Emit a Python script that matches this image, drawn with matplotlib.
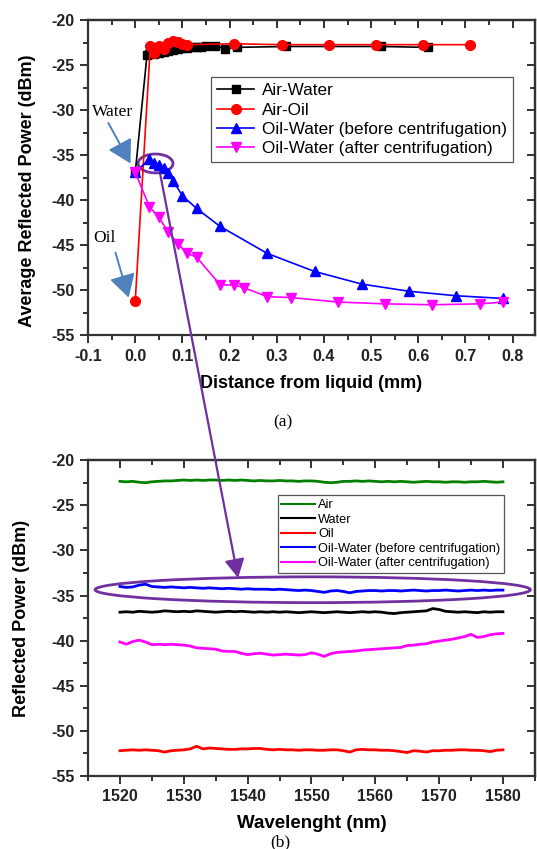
import numpy as np
import matplotlib
matplotlib.use("Agg")
import matplotlib.pyplot as plt
from matplotlib.ticker import MultipleLocator
from matplotlib.patches import Ellipse, FancyArrowPatch, ConnectionPatch

plt.rcParams["font.family"] = ["Liberation Sans", "DejaVu Sans"]
plt.rcParams["axes.unicode_minus"] = False

# (a) reflected power against distance from the liquid surface
aw_x = [0.0, 0.025, 0.03, 0.04, 0.05, 0.06, 0.07, 0.08, 0.09, 0.10, 0.11,
        0.12, 0.13, 0.14, 0.15, 0.17, 0.19, 0.215, 0.32, 0.52, 0.62]
aw_y = [-36.9, -23.8, -23.7, -23.7, -23.6, -23.5, -23.4, -23.3, -23.2, -23.1, -23.1,
        -23.0, -23.0, -23.0, -22.9, -22.8, -23.2, -23.0, -22.9, -22.9, -23.0]

ao_x = [0.0, 0.032, 0.04, 0.05, 0.06, 0.07, 0.08, 0.09, 0.10, 0.11,
        0.21, 0.31, 0.41, 0.51, 0.61, 0.71]
ao_y = [-51.2, -22.8, -23.6, -22.8, -23.2, -22.5, -22.3, -22.4, -22.6, -22.7,
        -22.6, -22.7, -22.7, -22.7, -22.7, -22.7]

ow_before_x = [0.0, 0.03, 0.04, 0.05, 0.06, 0.07, 0.08, 0.10, 0.13, 0.18,
               0.28, 0.38, 0.48, 0.58, 0.68, 0.78]
ow_before_y = [-36.9, -35.4, -35.8, -36.1, -36.4, -37.0, -37.8, -39.5, -40.9, -42.9,
               -45.9, -47.9, -49.3, -50.1, -50.6, -50.9]

ow_after_x = [0.0, 0.03, 0.05, 0.07, 0.09, 0.11, 0.13, 0.18, 0.21, 0.23,
              0.28, 0.33, 0.43, 0.53, 0.63, 0.73, 0.78]
ow_after_y = [-36.9, -40.7, -41.9, -43.5, -44.8, -45.9, -46.3, -49.4, -49.4, -49.7,
              -50.7, -50.8, -51.3, -51.5, -51.6, -51.5, -51.3]

# (b) spectra, one value per nm
wavelength = np.arange(1520, 1581)
air = [-22.35, -22.4, -22.35, -22.45, -22.5, -22.4, -22.35, -22.3, -22.3, -22.25,
       -22.2, -22.25, -22.2, -22.25, -22.2, -22.2, -22.25, -22.2, -22.25, -22.2,
       -22.25, -22.3, -22.25, -22.3, -22.3, -22.25, -22.3, -22.3, -22.35, -22.3,
       -22.3, -22.35, -22.45, -22.5, -22.45, -22.35, -22.35, -22.3, -22.35, -22.3,
       -22.35, -22.4, -22.35, -22.4, -22.35, -22.4, -22.45, -22.4, -22.35, -22.4,
       -22.4, -22.45, -22.4, -22.4, -22.45, -22.4, -22.4, -22.35, -22.4, -22.45,
       -22.4]
water = [-36.85, -36.8, -36.85, -36.75, -36.8, -36.85, -36.8, -36.7, -36.75, -36.8,
         -36.75, -36.8, -36.7, -36.75, -36.8, -36.85, -36.8, -36.75, -36.8, -36.75,
         -36.8, -36.85, -36.8, -36.85, -36.8, -36.85, -36.8, -36.85, -36.9, -36.85,
         -36.8, -36.85, -36.9, -36.85, -36.8, -36.85, -36.9, -36.85, -36.8, -36.85,
         -36.8, -36.85, -36.95, -37.0, -36.9, -36.85, -36.8, -36.75, -36.7, -36.45,
         -36.55, -36.75, -36.8, -36.85, -36.8, -36.85, -36.9, -36.8, -36.85, -36.8,
         -36.8]
oil = [-52.2, -52.15, -52.1, -52.15, -52.1, -52.15, -52.2, -52.35, -52.2, -52.15,
       -52.1, -52.0, -51.7, -52.0, -51.9, -51.95, -52.0, -52.05, -52.05, -52.0,
       -52.0, -51.95, -51.95, -52.05, -52.1, -52.05, -52.1, -52.1, -52.15, -52.1,
       -52.1, -52.15, -52.15, -52.1, -52.1, -52.2, -52.35, -52.1, -52.05, -52.1,
       -52.1, -52.15, -52.15, -52.2, -52.3, -52.4, -52.2, -52.25, -52.35, -52.2,
       -52.2, -52.15, -52.15, -52.1, -52.1, -52.15, -52.15, -52.2, -52.3, -52.15,
       -52.1]
ow_before = [-34.0, -34.1, -34.05, -33.85, -33.75, -34.0, -34.05, -34.1, -34.05, -34.1,
             -34.15, -34.1, -34.15, -34.2, -34.15, -34.2, -34.25, -34.2, -34.25, -34.3,
             -34.25, -34.3, -34.3, -34.3, -34.35, -34.3, -34.35, -34.4, -34.45, -34.4,
             -34.45, -34.55, -34.65, -34.5, -34.45, -34.55, -34.7, -34.55, -34.5, -34.45,
             -34.45, -34.5, -34.45, -34.45, -34.5, -34.45, -34.4, -34.45, -34.5, -34.45,
             -34.45, -34.4, -34.45, -34.5, -34.45, -34.4, -34.45, -34.4, -34.45, -34.4,
             -34.4]
ow_after = [-40.15, -40.4, -40.1, -39.95, -40.15, -40.45, -40.4, -40.45, -40.4, -40.45,
            -40.5, -40.6, -40.8, -40.85, -40.9, -40.95, -41.15, -41.2, -41.2, -41.4,
            -41.55, -41.45, -41.4, -41.5, -41.6, -41.55, -41.5, -41.55, -41.6, -41.55,
            -41.35, -41.5, -41.75, -41.45, -41.3, -41.25, -41.2, -41.15, -41.05, -41.0,
            -40.95, -40.9, -40.85, -40.8, -40.75, -40.55, -40.5, -40.4, -40.35, -40.15,
            -40.05, -39.95, -39.85, -39.7, -39.55, -39.3, -39.65, -39.55, -39.35, -39.25,
            -39.2]

purple = "#7030a0"
steel = "#4f81bd"
serif = ["Liberation Serif", "DejaVu Serif"]

fig = plt.figure(figsize=(5.37, 8.49), dpi=100)
ax1 = fig.add_axes([0.164, 0.605, 0.832, 0.371])
ax2 = fig.add_axes([0.164, 0.086, 0.832, 0.372])


def style_axes(ax, xmaj, xmin, ymaj, ymin):
    ax.xaxis.set_major_locator(MultipleLocator(xmaj))
    ax.xaxis.set_minor_locator(MultipleLocator(xmin))
    ax.yaxis.set_major_locator(MultipleLocator(ymaj))
    ax.yaxis.set_minor_locator(MultipleLocator(ymin))
    ax.tick_params(which="both", direction="out", width=1.3, colors="#222222")
    ax.tick_params(which="major", length=6, labelsize=11.5)
    ax.tick_params(which="minor", length=3.5)
    for sp in ax.spines.values():
        sp.set_linewidth(1.6)
        sp.set_color("#333333")
    # mirrored ticks on top and right point inwards
    top = ax.secondary_xaxis("top")
    right = ax.secondary_yaxis("right")
    top.xaxis.set_major_locator(MultipleLocator(xmaj))
    top.xaxis.set_minor_locator(MultipleLocator(xmin))
    right.yaxis.set_major_locator(MultipleLocator(ymaj))
    right.yaxis.set_minor_locator(MultipleLocator(ymin))
    for sec in (top, right):
        sec.tick_params(which="both", direction="in", width=1.3, colors="#222222",
                        labeltop=False, labelright=False)
        sec.tick_params(which="major", length=6)
        sec.tick_params(which="minor", length=3.5)
        for sp in sec.spines.values():
            sp.set_linewidth(1.6)
            sp.set_color("#333333")


def bold_ticks(ax):
    for lab in ax.get_xticklabels() + ax.get_yticklabels():
        lab.set_fontweight("bold")


# ---- (a)
ax1.plot(aw_x, aw_y, "-s", color="black", ms=5.5, lw=1.2, label="Air-Water")
ax1.plot(ao_x, ao_y, "-o", color="red", ms=7, lw=1.2, label="Air-Oil")
ax1.plot(ow_before_x, ow_before_y, "-^", color="blue", ms=7, lw=1.2,
         label="Oil-Water (before centrifugation)")
ax1.plot(ow_after_x, ow_after_y, "-v", color="magenta", ms=7, lw=1.2,
         label="Oil-Water (after centrifugation)")
ax1.set_xlim(-0.1, 0.847)
ax1.set_ylim(-55, -20)
style_axes(ax1, 0.1, 0.05, 5, 2.5)
ax1.xaxis.set_major_formatter(lambda v, p: f"{v:.1f}")
bold_ticks(ax1)
ax1.set_xlabel("Distance from liquid (mm)", fontsize=13, fontweight="bold")
ax1.xaxis.set_label_coords(0.5, -0.125)
ax1.set_ylabel("Average Reflected Power (dBm)", fontsize=13, fontweight="bold")
ax1.yaxis.set_label_coords(-0.117, 0.46)

leg1 = ax1.legend(loc="upper left", bbox_to_anchor=(0.275, 0.819), borderaxespad=0,
                  fontsize=12.3, frameon=True, fancybox=False, framealpha=1,
                  edgecolor="#555555", handlelength=2.2, labelspacing=0.25,
                  borderpad=0.35, handletextpad=0.45)
leg1.get_frame().set_linewidth(0.9)

ax1.text(-0.091, -30.2, "Water", family=serif, fontsize=12.5, va="center", ha="left")
ax1.text(-0.09, -44.2, "Oil", family=serif, fontsize=12.5, va="center", ha="left")
for start, tip in [((-0.057, -31.4), (-0.01, -35.9)), ((-0.042, -45.8), (-0.014, -50.8))]:
    ax1.add_patch(FancyArrowPatch(start, tip, arrowstyle="-|>,head_length=0.7,head_width=0.4",
                                  mutation_scale=20, color=steel, lw=1.4, shrinkA=0, shrinkB=0))

ax1.add_patch(Ellipse((0.043, -35.9), 0.074, 2.1, fill=False, ec=purple, lw=2))

# ---- (b)
ax2.plot(wavelength, air, color="green", lw=2, label="Air")
ax2.plot(wavelength, water, color="black", lw=2, label="Water")
ax2.plot(wavelength, oil, color="red", lw=2, label="Oil")
ax2.plot(wavelength, ow_before, color="blue", lw=2, label="Oil-Water (before centrifugation)")
ax2.plot(wavelength, ow_after, color="magenta", lw=2, label="Oil-Water (after centrifugation)")
ax2.set_xlim(1515, 1585)
ax2.set_ylim(-55, -20)
style_axes(ax2, 10, 5, 5, 2.5)
bold_ticks(ax2)
ax2.set_xlabel("Wavelenght (nm)", fontsize=13.5, fontweight="bold")
ax2.xaxis.set_label_coords(0.5, -0.125)
ax2.set_ylabel("Reflected Power (dBm)", fontsize=13, fontweight="bold")
ax2.yaxis.set_label_coords(-0.13, 0.5)

leg2 = ax2.legend(loc="upper left", bbox_to_anchor=(0.424, 0.889), borderaxespad=0,
                  fontsize=9.2, frameon=True, fancybox=False, framealpha=1,
                  edgecolor="#555555", handlelength=2.6, labelspacing=0.2,
                  borderpad=0.3, handletextpad=0.3)
for line in leg2.get_lines():
    line.set_linewidth(1.5)
leg2.get_frame().set_linewidth(0.9)

ax2.add_patch(Ellipse((1550.2, -34.36), 68.2, 2.86, fill=False, ec=purple, lw=2,
                      clip_on=False))

# purple pointer from (a) down to (b)
con = ConnectionPatch(xyA=(0.053, -37.1), coordsA=ax1.transData,
                      xyB=(1538.5, -33.05), coordsB=ax2.transData,
                      arrowstyle="-|>,head_length=0.75,head_width=0.4", mutation_scale=15,
                      color=purple, lw=1.6, shrinkA=0, shrinkB=0)
fig.add_artist(con)

fig.text(283 / 537, 1 - 422 / 849, "(a)", family=serif, fontsize=12.5, ha="center", va="center")
fig.text(280 / 537, 1 - 842 / 849, "(b)", family=serif, fontsize=12.5, ha="center", va="center")

fig.savefig("out.png", dpi=100)
